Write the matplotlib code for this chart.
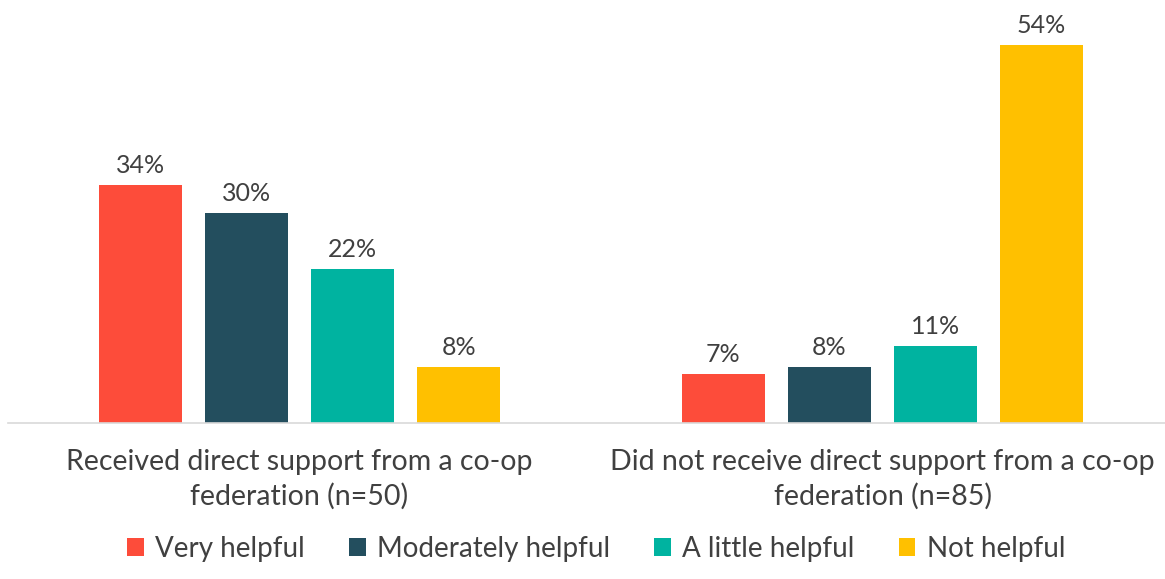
import matplotlib
matplotlib.use('Agg')
import matplotlib.pyplot as plt
import numpy as np

plt.rcParams['font.family'] = ['Lato', 'DejaVu Sans']

categories = ['Received direct support from a co-op\nfederation (n=50)',
              'Did not receive direct support from a co-op\nfederation (n=85)']
series = ['Very helpful', 'Moderately helpful', 'A little helpful', 'Not helpful']
very = [34, 7]
moderately = [30, 8]
little = [22, 11]
not_helpful = [8, 54]
values = [very, moderately, little, not_helpful]
colors = ['#FD4C3A', '#234E5E', '#00B3A0', '#FFC000']

fig = plt.figure(figsize=(11.65, 5.79), dpi=100)
ax = fig.add_axes([8 / 1165, 1 - 423 / 579, 1166 / 1165, 420 / 579])

x = np.arange(len(categories))
width = 0.143
step = 0.182
for i, (name, vals) in enumerate(zip(series, values)):
    pos = x + (i - 1.5) * step
    bars = ax.bar(pos, vals, width, color=colors[i], label=name)
    for b, v in zip(bars, vals):
        ax.text(b.get_x() + b.get_width() / 2, v + 1.2, f'{v}%',
                ha='center', va='bottom', fontsize=18, color='#404040')

ax.set_xlim(-0.5, 1.5)
ax.set_ylim(0, 60)
ax.set_yticks([])
ax.set_xticks(x)
ax.set_xticklabels(categories, fontsize=20.5, color='#404040', linespacing=1.35)
ax.tick_params(axis='x', length=0, pad=19)
for s in ['top', 'right', 'left']:
    ax.spines[s].set_visible(False)
ax.spines['bottom'].set_color('#D9D9D9')
ax.spines['bottom'].set_linewidth(1.2)

fig.legend(loc='center', bbox_to_anchor=(596 / 1165, 1 - 549 / 579), ncol=4,
           frameon=False, fontsize=20, labelcolor='#404040',
           handlelength=0.6, handleheight=0.6, handletextpad=0.4, columnspacing=1.6)

fig.savefig('out.png', dpi=100)
